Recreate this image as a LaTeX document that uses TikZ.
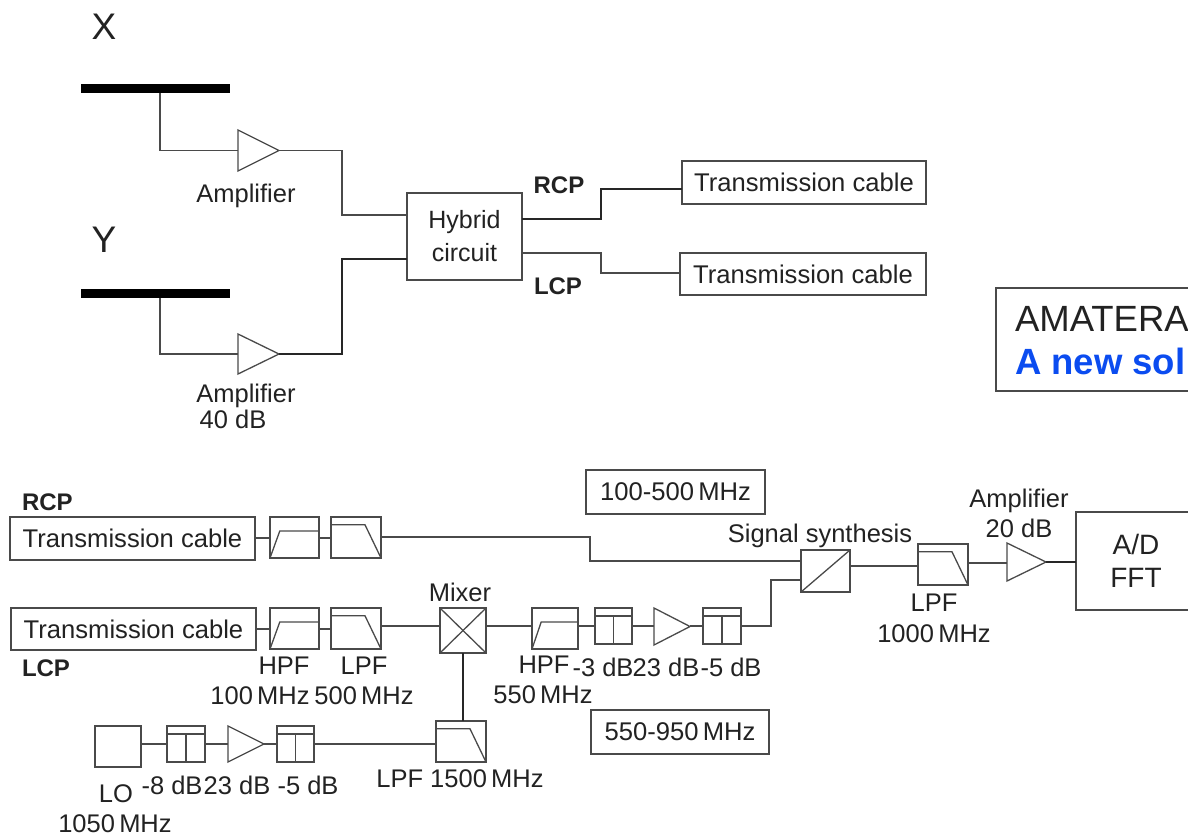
\documentclass[tikz,border=0pt]{standalone}
\usepackage{fontspec}
\setmainfont{Liberation Sans}
\usetikzlibrary{calc}
\definecolor{ln}{HTML}{4A4A4A}
\definecolor{tx}{HTML}{222222}
\definecolor{amblue}{HTML}{0B4CF0}
\tikzset{
  bx/.style={draw=ln,line width=1.4pt,inner sep=0pt,outer sep=0pt,text=tx,align=center,font=\fontsize{25.6}{33}\selectfont},
  inner/.style={draw=ln,line width=1.3pt,line join=miter},
  wire/.style={draw=ln,line width=1.4pt,line join=miter},
  wired/.style={draw=black!85,line width=1.5pt,line join=miter},
  lbl/.style={inner sep=0pt,outer sep=0pt,text=tx,text height=18.5pt,text depth=0pt,font=\fontsize{25.5}{30}\selectfont},
  blbl/.style={lbl,text height=17pt,font=\fontsize{24}{30}\selectfont\bfseries},
  big/.style={inner sep=0pt,outer sep=0pt,text=tx,font=\fontsize{37}{40}\selectfont},
  ghost/.style={inner sep=0pt,outer sep=0pt}
}
% #1 name, #2-#5 corners, #6 text
\newcommand{\BX}[6]{\node[bx,minimum width={(#4-#2)*1pt},minimum height={(#5-#3)*1pt}] (#1) at ({(#2+#4)/2},{(#3+#5)/2}) {#6};}
% high-pass filter
\newcommand{\HP}[5]{\BX{#1}{#2}{#3}{#4}{#5}{}
  \draw[inner] (#1.south west) -- ($(#1.south west)!0.2!(#1.south east)+(0,{-0.66*(#5-#3)})$) -- ($(#1.south east)+(0,{-0.66*(#5-#3)})$);}
% low-pass filter
\newcommand{\LP}[5]{\BX{#1}{#2}{#3}{#4}{#5}{}
  \draw[inner] ($(#1.north west)+(0,{0.19*(#5-#3)})$) -- ($(#1.north west)!0.68!(#1.north east)+(0,{0.19*(#5-#3)})$) -- (#1.south east);}
% attenuator
\newcommand{\AT}[5]{\BX{#1}{#2}{#3}{#4}{#5}{}
  \draw[inner] ($(#1.north west)+(0,{0.22*(#5-#3)})$) -- ($(#1.north east)+(0,{0.22*(#5-#3)})$);
  \draw[inner] ($(#1.north)+(0,{0.22*(#5-#3)})$) -- (#1.south);}
% amplifier triangle
\newcommand{\AM}[5]{\node[ghost,minimum width={(#4-#2)*1pt},minimum height={(#5-#3)*1pt}] (#1) at ({(#2+#4)/2},{(#3+#5)/2}) {};
  \draw[inner] (#1.north west) -- (#1.east) -- (#1.south west) -- cycle;}
% horizontal wire at a given height
\newcommand{\HL}[3]{\draw[wire] (#1.east |- 0,#3) -- (#2.west |- 0,#3);}
\begin{document}
\begin{tikzpicture}[x=1pt,y=-1pt]
\useasboundingbox (0,0) rectangle (1188,836);
\fill[white] (0,0) rectangle (1188,836);
\clip (0,0) rectangle (1188,836);

% upper part
\node[big] (tx) at (104,27) {X};
\node[big] (ty) at (104,240) {Y};
\node[fill=black,inner sep=0pt,outer sep=0pt,minimum width=149pt,minimum height=9pt] (xbar) at (155.5,88.5) {};
\node[fill=black,inner sep=0pt,outer sep=0pt,minimum width=149pt,minimum height=9pt] (ybar) at (155.5,293.5) {};
\AM{amp1}{238}{130}{279}{171}
\AM{amp2}{238}{334}{279}{374}
\node[lbl] (lamp1) at (246,193) {Amplifier};
\node[lbl] (lamp2) at (246,393) {Amplifier};
\node[lbl] (lamp2b) at (233,419) {40 dB};
\BX{hyb}{407}{193}{522}{280}{\fontsize{25}{29.5}\selectfont Hybrid\\\fontsize{25}{29.5}\selectfont circuit}
\BX{tc1}{682}{161}{926}{204}{Transmission cable}
\BX{tc2}{680}{253}{926}{295}{Transmission cable}
\node[blbl] (lrcp1) at (559,185) {RCP};
\node[blbl] (llcp1) at (558,286) {LCP};
\draw[wire] (160,0 |- xbar.south) |- (amp1.west);
\draw[wire] (160,0 |- ybar.south) |- (amp2.west);
\draw[wire] (amp1.east) -- (342,0 |- amp1.east) |- (hyb.west |- 0,215);
\draw[wired] (amp2.east) -- (342,0 |- amp2.east) |- (hyb.west |- 0,259);
\draw[wired] (hyb.east |- 0,219) -- (601,219) |- (tc1.west |- 0,189);
\draw[wire] (hyb.east |- 0,253) -- (601,253) |- (tc2.west |- 0,273);

% AMATERAS box
\draw[draw=ln,line width=1.2pt] (1200,288) -- (996,288) -- (996,391) -- (1200,391);
\node[big,anchor=west,font=\fontsize{36.5}{40}\selectfont] (ama) at (1015,319) {AMATERA};
\node[big,anchor=west,text=amblue,font=\fontsize{36.5}{40}\selectfont\bfseries] (sol) at (1015,361) {A new sol};

% lower part, RCP chain
\node[blbl,anchor=west] (lrcp2) at (22,502) {RCP};
\BX{tc3}{10}{517}{255}{560}{Transmission cable}
\HP{hp1}{270}{517}{319}{558}
\LP{lp1}{331}{517}{381}{558}
\HL{tc3}{hp1}{538}
\HL{hp1}{lp1}{538}
\BX{b100}{586}{470}{765}{514}{100-500\,MHz}
\BX{sum}{801}{550}{850}{592}{}
\draw[inner] (sum.south west) -- (sum.north east);
\draw[wire] (lp1.east |- 0,537) -- (590,537) |- (sum.west |- 0,561);

% LCP chain
\BX{tc4}{11}{608}{256}{650}{Transmission cable}
\node[blbl,anchor=west] (llcp2) at (22,668) {LCP};
\HP{hp2}{270}{608}{319}{649}
\LP{lp2}{331}{608}{381}{649}
\BX{mix}{440}{608}{486}{653}{}
\draw[inner] (mix.south west) -- (mix.north east);
\draw[inner] (mix.north west) -- (mix.south east);
\HP{hp3}{532}{608}{578}{649}
\AT{at3}{595}{608}{632}{644}
\AM{amp3}{654}{608}{690}{645}
\AT{at4}{703}{608}{741}{644}
\HL{tc4}{hp2}{629}
\HL{hp2}{lp2}{629}
\HL{lp2}{mix}{626}
\HL{mix}{hp3}{626}
\HL{hp3}{at3}{626}
\HL{at3}{amp3}{626}
\HL{amp3}{at4}{626}
\draw[wire] (at4.east |- 0,626) -- (771,626) |- (sum.west |- 0,580);
\node[lbl] (lmix) at (460,592) {Mixer};
\node[lbl] (lhp2) at (284,665) {HPF};
\node[lbl] (llp2) at (364,665) {LPF};
\node[lbl] (lhp2b) at (260,695) {100\,MHz};
\node[lbl] (llp2b) at (364,695) {500\,MHz};
\node[lbl] (lhp3) at (544,664) {HPF};
\node[lbl] (lhp3b) at (543,694) {550\,MHz};
\node[lbl] (lat3) at (603,667) {-3 dB};
\node[lbl] (lamp3) at (666,667) {23 dB};
\node[lbl] (lat4) at (731,667) {-5 dB};
\BX{b550}{591}{710}{769}{754}{550-950\,MHz}

% output
\LP{lp3}{918}{544}{968}{585}
\AM{amp4}{1007}{543}{1046}{581}
\BX{adc}{1076}{512}{1196}{610}{\fontsize{28}{33}\selectfont A/D\\\fontsize{28}{33}\selectfont FFT}
\HL{sum}{lp3}{566}
\HL{lp3}{amp4}{563}
\draw[wired] (amp4.east) -- (adc.west |- amp4.east);
\node[lbl] (lsum) at (820,533) {Signal synthesis};
\node[lbl] (lamp4) at (1019,498) {Amplifier};
\node[lbl] (lamp4b) at (1019,528) {20 dB};
\node[lbl] (llp3) at (934,602) {LPF};
\node[lbl] (llp3b) at (934,633) {1000\,MHz};

% local oscillator chain
\BX{lo}{95}{726}{141}{767}{}
\AT{at1}{167}{726}{205}{762}
\AM{amp5}{228}{726}{264}{762}
\AT{at2}{277}{726}{314}{762}
\LP{lp4}{436}{721}{486}{762}
\HL{lo}{at1}{744}
\HL{at1}{amp5}{744}
\HL{amp5}{at2}{744}
\HL{at2}{lp4}{744}
\draw[wired] (mix.south -| 463,0) -- (lp4.north -| 463,0);
\node[lbl] (llo) at (116,793) {LO};
\node[lbl] (llob) at (115,823) {1050\,MHz};
\node[lbl] (lat1) at (172,785) {-8 dB};
\node[lbl] (lamp5) at (237,785) {23 dB};
\node[lbl] (lat2) at (308,785) {-5 dB};
\node[lbl] (llp4) at (460,778) {LPF 1500\,MHz};
\end{tikzpicture}
\end{document}
